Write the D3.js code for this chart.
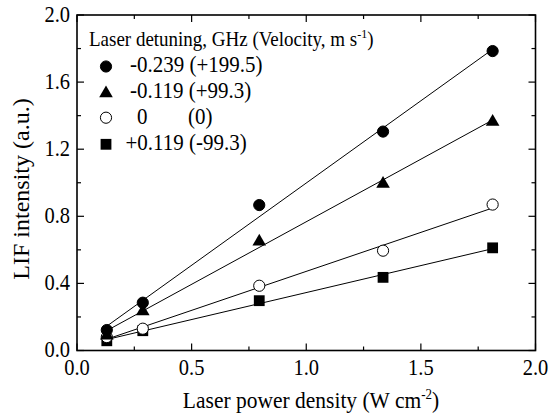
<!DOCTYPE html>
<html>
<head>
<meta charset="utf-8">
<script src="https://cdn.jsdelivr.net/npm/d3@7"></script>
<style>
  html, body { margin: 0; padding: 0; background: #fff; }
  svg { display: block; }
</style>
</head>
<body>
<svg id="chart" width="549" height="417"></svg>
<script>
// Laser power density (W cm^-2) at which LIF was measured
const powerDensity = [0.13, 0.287, 0.795, 1.335, 1.813];

// LIF intensity (a.u.) for each laser detuning, GHz (velocity, m/s)
const seriesSymbols = ["circle", "triangle", "open", "square"];
const lifCircle   = [0.122, 0.285, 0.867, 1.305, 1.785];
const lifTriangle = [0.095, 0.240, 0.655, 1.000, 1.370];
const lifOpen     = [0.080, 0.130, 0.386, 0.595, 0.870];
const lifSquare   = [0.058, 0.118, 0.297, 0.436, 0.612];
const lifSeries = [lifCircle, lifTriangle, lifOpen, lifSquare];

const xTicks = [0.0, 0.5, 1.0, 1.5, 2.0];
const yTicks = [0.0, 0.4, 0.8, 1.2, 1.6, 2.0];

const FONT = "'Liberation Serif', 'Times New Roman', serif";
const SY = 1.12; // glyphs are drawn slightly tall
const svg = d3.select("#chart");
const m = { left: 77, right: 535.5, top: 15, bottom: 350.5 };

const x = d3.scaleLinear().domain([0, 2]).range([m.left, m.right]);
const y = d3.scaleLinear().domain([0, 2]).range([m.bottom, m.top]);

function label(parent, px, py, size, anchor, sy = SY) {
  return parent.append("text")
    .attr("transform", `translate(${px},${py}) scale(1,${sy})`)
    .attr("text-anchor", anchor || "start")
    .attr("font-size", size)
    .style("font-family", FONT)
    .attr("fill", "#000");
}

// inward ticks on all four sides
const xMinor = d3.range(0, 2.001, 0.25);
const yMinor = d3.range(0, 2.001, 0.2);
const g = svg.append("g").attr("stroke", "#000").attr("stroke-width", 1.2);
xMinor.forEach(v => {
  const len = (Math.abs(v * 2 - Math.round(v * 2)) < 1e-6) ? 7 : 4;
  g.append("line").attr("x1", x(v)).attr("x2", x(v)).attr("y1", m.bottom).attr("y2", m.bottom - len);
  g.append("line").attr("x1", x(v)).attr("x2", x(v)).attr("y1", m.top).attr("y2", m.top + len);
});
yMinor.forEach(v => {
  const major = Math.abs(v / 0.4 - Math.round(v / 0.4)) < 1e-6;
  const len = major ? 7 : 4;
  g.append("line").attr("x1", m.left).attr("x2", m.left + len).attr("y1", y(v)).attr("y2", y(v));
  g.append("line").attr("x1", m.right).attr("x2", m.right - len).attr("y1", y(v)).attr("y2", y(v));
});

// frame
svg.append("rect")
  .attr("x", m.left).attr("y", m.top)
  .attr("width", m.right - m.left).attr("height", m.bottom - m.top)
  .attr("fill", "none").attr("stroke", "#000").attr("stroke-width", 1.6);

// tick labels
const tickG = svg.append("g");
xTicks.forEach(d => label(tickG, x(d), 375, 20.5, "middle").text(d.toFixed(1)));
yTicks.forEach(d => label(tickG, m.left - 7, y(d) + 6.5, 20.5, "end").text(d.toFixed(1)));

// axis titles
const xt = label(svg, 311, 408, 21.5, "middle");
xt.append("tspan").text("Laser power density (W cm");
xt.append("tspan").attr("font-size", 13).attr("dy", -8).text("-2");
xt.append("tspan").attr("dy", 8).text(")");

svg.append("text")
  .attr("transform", "translate(28.5,189) rotate(-90)")
  .attr("text-anchor", "middle").attr("font-size", 24)
  .style("font-family", FONT)
  .text("LIF intensity (a.u.)");

// least-squares fit lines across the measured range
function fit(xs, ys) {
  const mx = d3.mean(xs), my = d3.mean(ys);
  let sxy = 0, sxx = 0;
  xs.forEach((xv, i) => { sxy += (xv - mx) * (ys[i] - my); sxx += (xv - mx) ** 2; });
  const b = sxy / sxx;
  return { a: my - b * mx, b };
}
const x0 = d3.min(powerDensity), x1 = d3.max(powerDensity);
lifSeries.forEach(s => {
  const f = fit(powerDensity, s);
  svg.append("line")
    .attr("x1", x(x0)).attr("y1", y(f.a + f.b * x0))
    .attr("x2", x(x1)).attr("y2", y(f.a + f.b * x1))
    .attr("stroke", "#000").attr("stroke-width", 1);
});

// markers
function drawSymbol(sel, kind, cx, cy) {
  if (kind === "circle" || kind === "open") {
    sel.append("circle").attr("cx", cx).attr("cy", cy).attr("r", 5.6)
      .attr("fill", kind === "open" ? "#fff" : "#000")
      .attr("stroke", "#000").attr("stroke-width", 1);
  } else if (kind === "triangle") {
    sel.append("path")
      .attr("d", `M${cx},${cy - 6.8}L${cx + 6.8},${cy + 5}L${cx - 6.8},${cy + 5}Z`)
      .attr("fill", "#000");
  } else {
    sel.append("rect").attr("x", cx - 5.4).attr("y", cy - 5.4)
      .attr("width", 10.8).attr("height", 10.8).attr("fill", "#000");
  }
}
const marks = svg.append("g");
// bottom series first so upper markers sit on top
[3, 2, 1, 0].forEach(k => {
  lifSeries[k].forEach((v, i) => {
    drawSymbol(marks, seriesSymbols[k], x(powerDensity[i]), y(v));
  });
});

// legend
const lt = label(svg, 89, 46, 19, "start");
lt.append("tspan").text("Laser detuning, GHz (Velocity, m s");
lt.append("tspan").attr("font-size", 12).attr("dy", -7).text("-1");
lt.append("tspan").attr("dy", 7).text(")");

const rowY = [66.5, 92.3, 117.7, 144.3];
const leg = svg.append("g");
seriesSymbols.forEach((kind, k) => drawSymbol(leg, kind, 106, rowY[k]));
const legendLabels = [
  { t: "-0.239 (+199.5)", x: 130, row: 0 },
  { t: "-0.119 (+99.3)", x: 130, row: 1 },
  { t: "0", x: 137, row: 2 },
  { t: "(0)", x: 188, row: 2 },
  { t: "+0.119 (-99.3)", x: 125.5, row: 3 }
];
legendLabels.forEach(d => label(leg, d.x, rowY[d.row] + 5.8, 21, "start").text(d.t));
</script>
</body>
</html>
